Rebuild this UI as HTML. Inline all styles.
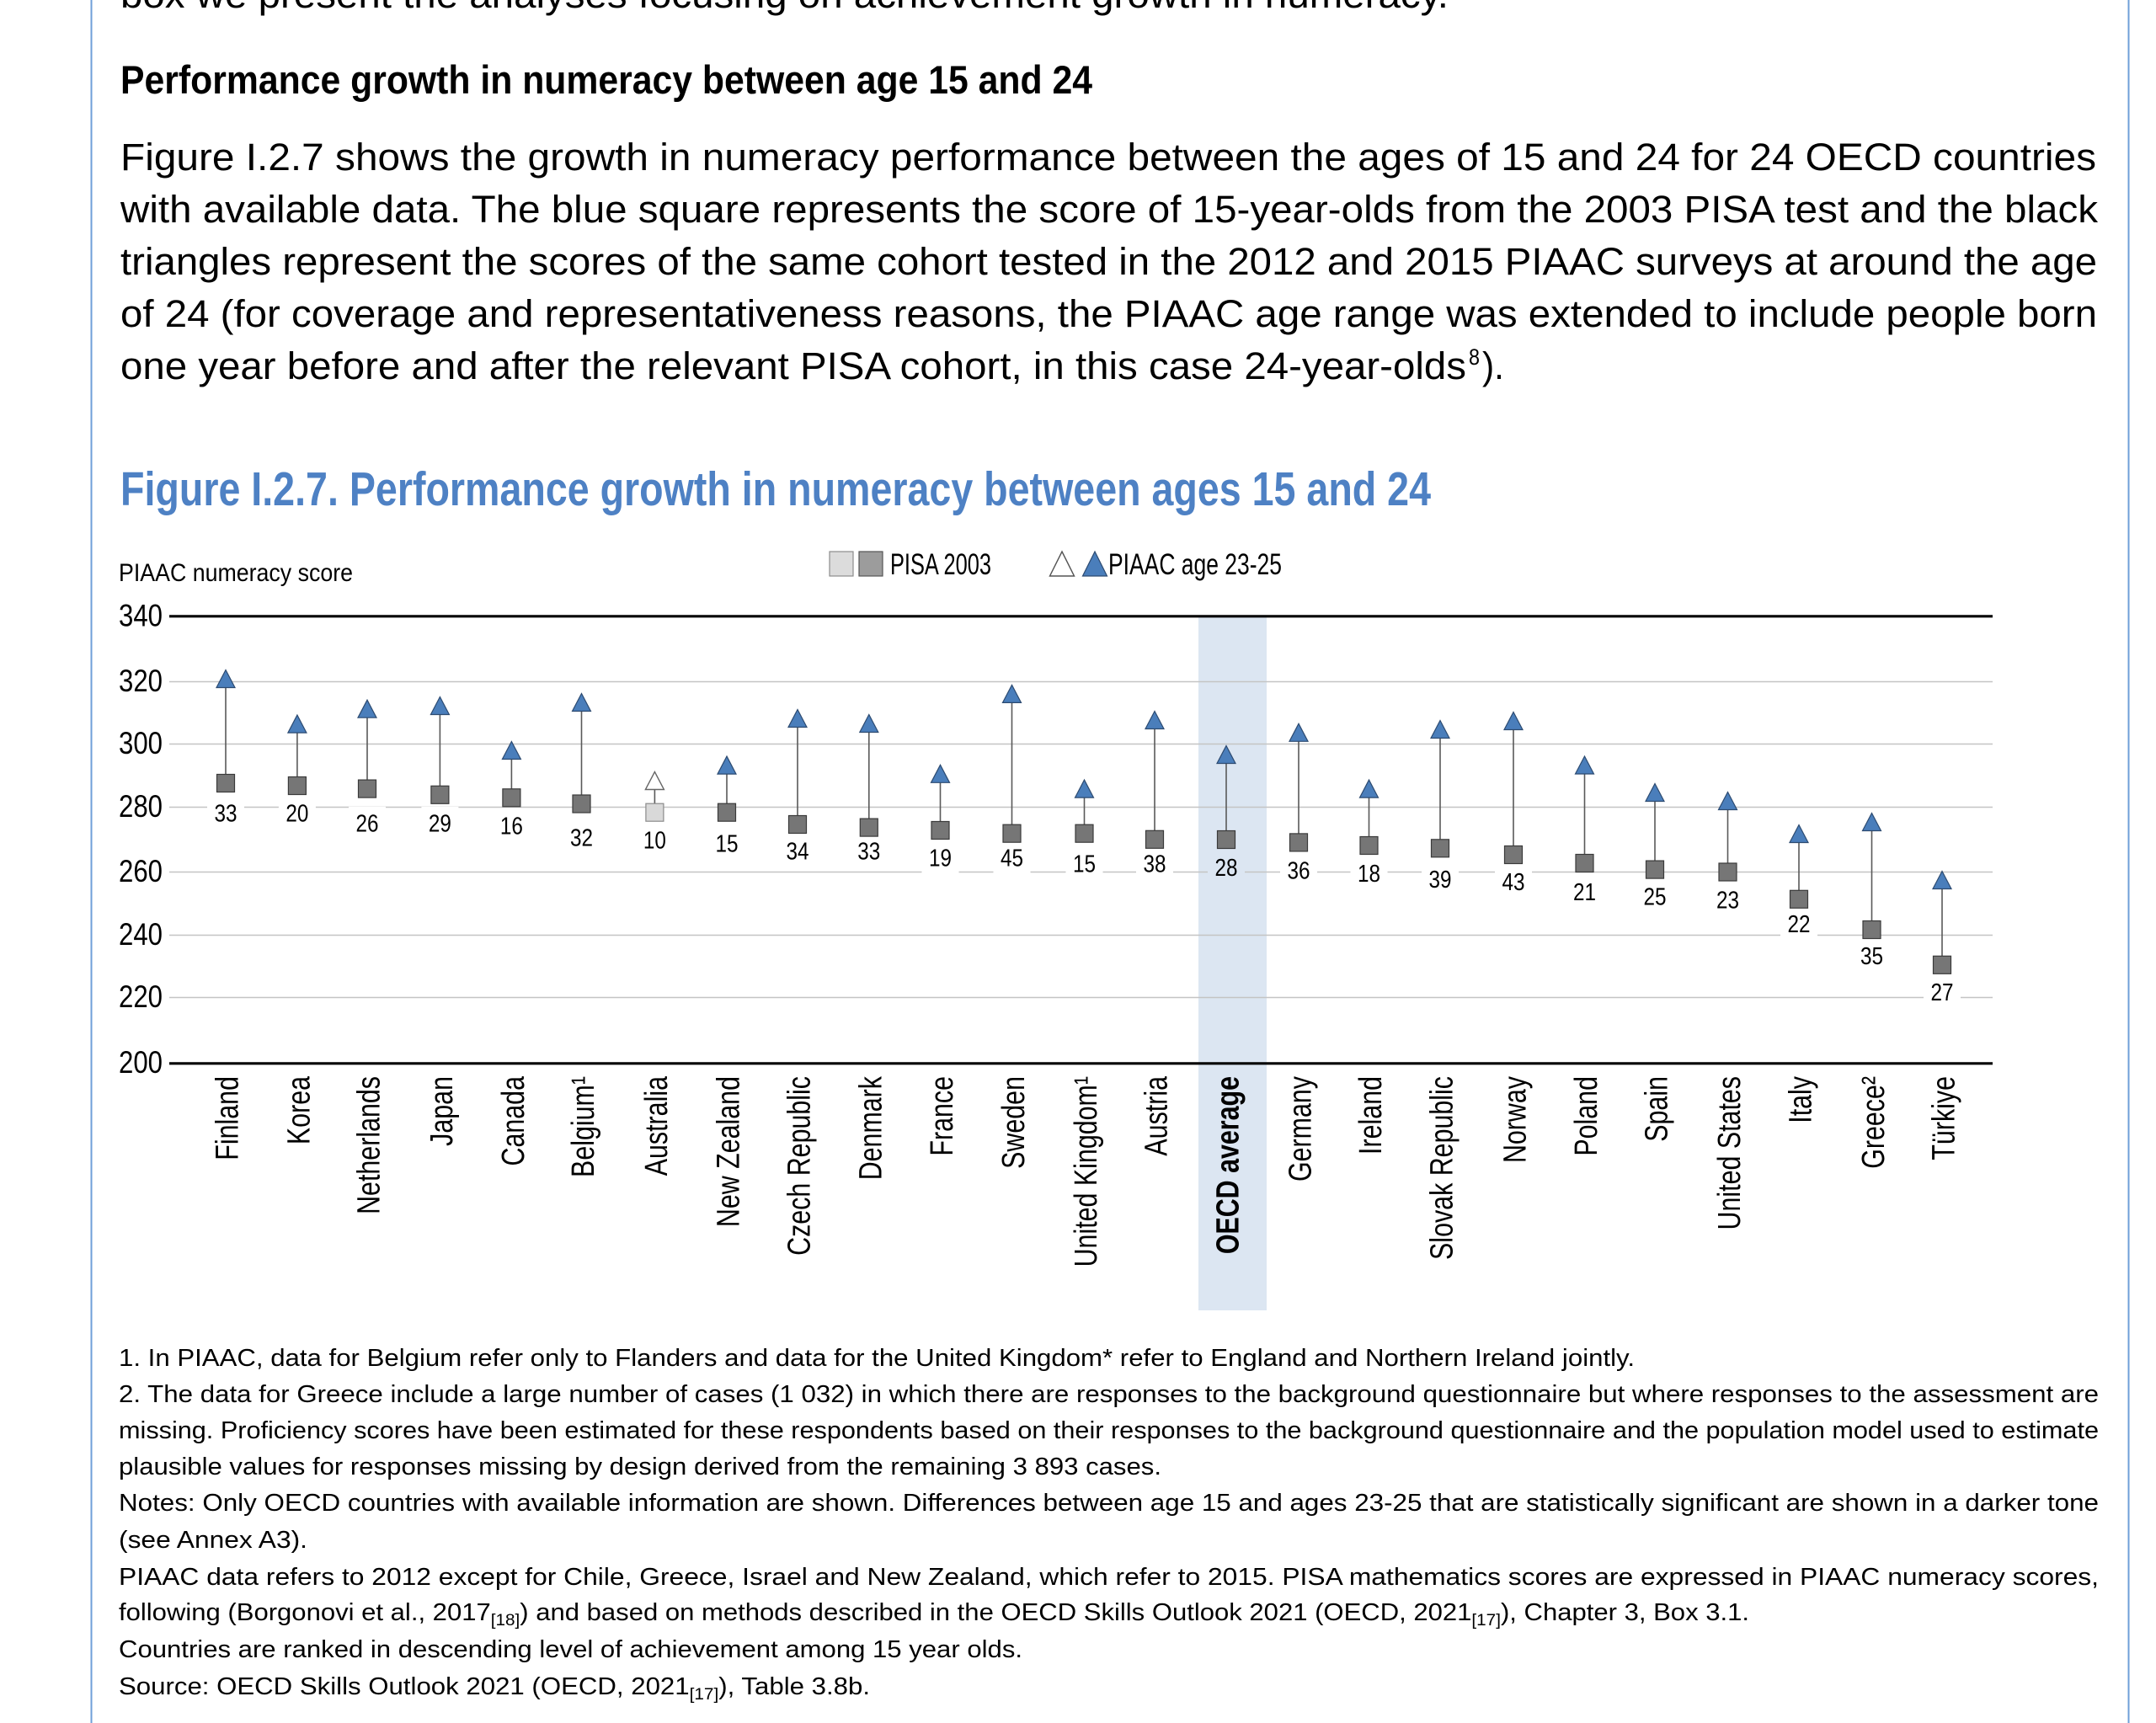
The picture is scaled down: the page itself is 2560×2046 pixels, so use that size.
<!DOCTYPE html>
<html>
<head>
<meta charset="utf-8">
<style>
html,body{margin:0;padding:0;background:#fff;}
svg{display:block;}
text{font-family:"Liberation Sans",Arial,sans-serif;fill:#000;}
.grid{stroke:#c4c4c4;stroke-width:1.5;}
.axis{stroke:#000;stroke-width:3.2;}
.st{stroke:#595959;stroke-width:1.6;}
.sq{fill:#767676;stroke:#3a3a3a;stroke-width:1.2;}
.sql{fill:#d9d9d9;stroke:#8a8a8a;stroke-width:1.2;}
.tr{fill:#4a7ebb;stroke:#2c4a70;stroke-width:1.2;}
.trl{fill:#fff;stroke:#666;stroke-width:1.4;}
.lb{fill:#fff;}
.dl{font-size:29px;}
.xl{font-size:38px;}
.tk{font-size:37px;}
.fn{font-size:28.5px;}
.pa{font-size:45px;}
</style>
</head>
<body>
<svg width="2560" height="2046" viewBox="0 0 2560 2046" xmlns="http://www.w3.org/2000/svg">
<rect x="0" y="0" width="2560" height="2046" fill="#fff"/>
<line x1="108.5" y1="0" x2="108.5" y2="2046" stroke="#6f9fd8" stroke-width="2"/>
<line x1="2527.5" y1="0" x2="2527.5" y2="2046" stroke="#6f9fd8" stroke-width="2"/>

<text class="pa" x="143" y="9" textLength="1577" lengthAdjust="spacingAndGlyphs">box we present the analyses focusing on achievement growth in numeracy.</text>
<text x="143" y="111" font-size="47" font-weight="bold" textLength="1154" lengthAdjust="spacingAndGlyphs">Performance growth in numeracy between age 15 and 24</text>
<text class="pa" x="143" y="202" textLength="2346" lengthAdjust="spacingAndGlyphs">Figure I.2.7 shows the growth in numeracy performance between the ages of 15 and 24 for 24 OECD countries</text>
<text class="pa" x="143" y="264" textLength="2348" lengthAdjust="spacingAndGlyphs">with available data. The blue square represents the score of 15-year-olds from the 2003 PISA test and the black</text>
<text class="pa" x="143" y="326" textLength="2347" lengthAdjust="spacingAndGlyphs">triangles represent the scores of the same cohort tested in the 2012 and 2015 PIAAC surveys at around the age</text>
<text class="pa" x="143" y="388" textLength="2347" lengthAdjust="spacingAndGlyphs">of 24 (for coverage and representativeness reasons, the PIAAC age range was extended to include people born</text>
<text class="pa" x="143" y="450" textLength="1598" lengthAdjust="spacingAndGlyphs">one year before and after the relevant PISA cohort, in this case 24-year-olds</text>
<text x="1744" y="433" font-size="27" textLength="13" lengthAdjust="spacingAndGlyphs">8</text>
<text class="pa" x="1760" y="450" textLength="26" lengthAdjust="spacingAndGlyphs">).</text>

<text x="143" y="600" font-size="57" font-weight="bold" style="fill:#4e81c4" textLength="1556" lengthAdjust="spacingAndGlyphs">Figure I.2.7. Performance growth in numeracy between ages 15 and 24</text>

<text x="141" y="690" font-size="30" textLength="278" lengthAdjust="spacingAndGlyphs">PIAAC numeracy score</text>

<rect x="985" y="655" width="28" height="29" fill="#dcdcdc" stroke="#8c8c8c" stroke-width="1.2"/>
<rect x="1020" y="655" width="28" height="29" fill="#9c9c9c" stroke="#555" stroke-width="1.2"/>
<text x="1057" y="682" font-size="35" textLength="120" lengthAdjust="spacingAndGlyphs">PISA 2003</text>
<polygon points="1246.5,684 1275.5,684 1261,655" fill="#fff" stroke="#555" stroke-width="1.4"/>
<polygon points="1285.5,684 1314.5,684 1300,655" fill="#4a7ebb" stroke="#2c4a70" stroke-width="1.2"/>
<text x="1316" y="682" font-size="35" textLength="206" lengthAdjust="spacingAndGlyphs">PIAAC age 23-25</text>

<rect x="1423" y="732" width="81" height="824" fill="#dce6f2"/>

<line class="grid" x1="201" y1="809.5" x2="2366" y2="809.5"/>
<line class="grid" x1="201" y1="883.5" x2="2366" y2="883.5"/>
<line class="grid" x1="201" y1="958.5" x2="2366" y2="958.5"/>
<line class="grid" x1="201" y1="1035.5" x2="2366" y2="1035.5"/>
<line class="grid" x1="201" y1="1110.5" x2="2366" y2="1110.5"/>
<line class="grid" x1="201" y1="1184.5" x2="2366" y2="1184.5"/>
<line class="axis" x1="201" y1="731.8" x2="2366" y2="731.8"/>
<line class="axis" x1="201" y1="1262.8" x2="2366" y2="1262.8"/>

<text class="tk" x="141" y="743.5" textLength="52" lengthAdjust="spacingAndGlyphs">340</text>
<text class="tk" x="141" y="821" textLength="52" lengthAdjust="spacingAndGlyphs">320</text>
<text class="tk" x="141" y="895" textLength="52" lengthAdjust="spacingAndGlyphs">300</text>
<text class="tk" x="141" y="970" textLength="52" lengthAdjust="spacingAndGlyphs">280</text>
<text class="tk" x="141" y="1047" textLength="52" lengthAdjust="spacingAndGlyphs">260</text>
<text class="tk" x="141" y="1122" textLength="52" lengthAdjust="spacingAndGlyphs">240</text>
<text class="tk" x="141" y="1196" textLength="52" lengthAdjust="spacingAndGlyphs">220</text>
<text class="tk" x="141" y="1274" textLength="52" lengthAdjust="spacingAndGlyphs">200</text>

<g transform="translate(268 0)">
<rect class="lb" x="-22" y="946" width="44" height="38"/>
<text class="dl" x="-13.5" y="975.5" textLength="27" lengthAdjust="spacingAndGlyphs">33</text>
<line class="st" x1="0" y1="930" x2="0" y2="806"/>
<rect class="sq" x="-10.5" y="919.5" width="21" height="21"/>
<polygon class="tr" transform="translate(0 806)" points="-11,10.5 11,10.5 0,-10.5"/>
<text class="xl" transform="translate(14.7 1278) rotate(-90) scale(0.8 1)" text-anchor="end">Finland</text>
</g>
<g transform="translate(352.9 0)">
<rect class="lb" x="-22" y="946" width="44" height="38"/>
<text class="dl" x="-13.5" y="975.5" textLength="27" lengthAdjust="spacingAndGlyphs">20</text>
<line class="st" x1="0" y1="933" x2="0" y2="859.6"/>
<rect class="sq" x="-10.5" y="922.5" width="21" height="21"/>
<polygon class="tr" transform="translate(0 859.6)" points="-11,10.5 11,10.5 0,-10.5"/>
<text class="xl" transform="translate(14.7 1278) rotate(-90) scale(0.8 1)" text-anchor="end">Korea</text>
</g>
<g transform="translate(436 0)">
<rect class="lb" x="-22" y="958" width="44" height="38"/>
<text class="dl" x="-13.5" y="987.5" textLength="27" lengthAdjust="spacingAndGlyphs">26</text>
<line class="st" x1="0" y1="936.6" x2="0" y2="841.7"/>
<rect class="sq" x="-10.5" y="926.1" width="21" height="21"/>
<polygon class="tr" transform="translate(0 841.7)" points="-11,10.5 11,10.5 0,-10.5"/>
<text class="xl" transform="translate(14.7 1278) rotate(-90) scale(0.8 1)" text-anchor="end">Netherlands</text>
</g>
<g transform="translate(522.4 0)">
<rect class="lb" x="-22" y="958" width="44" height="38"/>
<text class="dl" x="-13.5" y="987.5" textLength="27" lengthAdjust="spacingAndGlyphs">29</text>
<line class="st" x1="0" y1="943.8" x2="0" y2="838"/>
<rect class="sq" x="-10.5" y="933.3" width="21" height="21"/>
<polygon class="tr" transform="translate(0 838)" points="-11,10.5 11,10.5 0,-10.5"/>
<text class="xl" transform="translate(14.7 1278) rotate(-90) scale(0.8 1)" text-anchor="end">Japan</text>
</g>
<g transform="translate(607.4 0)">
<rect class="lb" x="-22" y="961" width="44" height="38"/>
<text class="dl" x="-13.5" y="990.5" textLength="27" lengthAdjust="spacingAndGlyphs">16</text>
<line class="st" x1="0" y1="947.3" x2="0" y2="891"/>
<rect class="sq" x="-10.5" y="936.8" width="21" height="21"/>
<polygon class="tr" transform="translate(0 891)" points="-11,10.5 11,10.5 0,-10.5"/>
<text class="xl" transform="translate(14.7 1278) rotate(-90) scale(0.8 1)" text-anchor="end">Canada</text>
</g>
<g transform="translate(690.5 0)">
<rect class="lb" x="-22" y="975" width="44" height="38"/>
<text class="dl" x="-13.5" y="1004.5" textLength="27" lengthAdjust="spacingAndGlyphs">32</text>
<line class="st" x1="0" y1="954.5" x2="0" y2="834"/>
<rect class="sq" x="-10.5" y="944" width="21" height="21"/>
<polygon class="tr" transform="translate(0 834)" points="-11,10.5 11,10.5 0,-10.5"/>
<text class="xl" transform="translate(14.7 1278) rotate(-90) scale(0.8 1)" text-anchor="end">Belgium¹</text>
</g>
<g transform="translate(777.4 0)">
<rect class="lb" x="-22" y="978" width="44" height="38"/>
<text class="dl" x="-13.5" y="1007.5" textLength="27" lengthAdjust="spacingAndGlyphs">10</text>
<line class="st" x1="0" y1="964.7" x2="0" y2="927"/>
<rect class="sql" x="-10.5" y="954.2" width="21" height="21"/>
<polygon class="trl" transform="translate(0 927)" points="-11,10.5 11,10.5 0,-10.5"/>
<text class="xl" transform="translate(14.7 1278) rotate(-90) scale(0.8 1)" text-anchor="end">Australia</text>
</g>
<g transform="translate(863 0)">
<rect class="lb" x="-22" y="982" width="44" height="38"/>
<text class="dl" x="-13.5" y="1011.5" textLength="27" lengthAdjust="spacingAndGlyphs">15</text>
<line class="st" x1="0" y1="964.7" x2="0" y2="908.6"/>
<rect class="sq" x="-10.5" y="954.2" width="21" height="21"/>
<polygon class="tr" transform="translate(0 908.6)" points="-11,10.5 11,10.5 0,-10.5"/>
<text class="xl" transform="translate(14.7 1278) rotate(-90) scale(0.8 1)" text-anchor="end">New Zealand</text>
</g>
<g transform="translate(947 0)">
<rect class="lb" x="-22" y="991" width="44" height="38"/>
<text class="dl" x="-13.5" y="1020.5" textLength="27" lengthAdjust="spacingAndGlyphs">34</text>
<line class="st" x1="0" y1="979" x2="0" y2="853"/>
<rect class="sq" x="-10.5" y="968.5" width="21" height="21"/>
<polygon class="tr" transform="translate(0 853)" points="-11,10.5 11,10.5 0,-10.5"/>
<text class="xl" transform="translate(14.7 1278) rotate(-90) scale(0.8 1)" text-anchor="end">Czech Republic</text>
</g>
<g transform="translate(1031.8 0)">
<rect class="lb" x="-22" y="991" width="44" height="38"/>
<text class="dl" x="-13.5" y="1020.5" textLength="27" lengthAdjust="spacingAndGlyphs">33</text>
<line class="st" x1="0" y1="982.6" x2="0" y2="859"/>
<rect class="sq" x="-10.5" y="972.1" width="21" height="21"/>
<polygon class="tr" transform="translate(0 859)" points="-11,10.5 11,10.5 0,-10.5"/>
<text class="xl" transform="translate(14.7 1278) rotate(-90) scale(0.8 1)" text-anchor="end">Denmark</text>
</g>
<g transform="translate(1116.5 0)">
<rect class="lb" x="-22" y="999" width="44" height="38"/>
<text class="dl" x="-13.5" y="1028.5" textLength="27" lengthAdjust="spacingAndGlyphs">19</text>
<line class="st" x1="0" y1="986" x2="0" y2="918.8"/>
<rect class="sq" x="-10.5" y="975.5" width="21" height="21"/>
<polygon class="tr" transform="translate(0 918.8)" points="-11,10.5 11,10.5 0,-10.5"/>
<text class="xl" transform="translate(14.7 1278) rotate(-90) scale(0.8 1)" text-anchor="end">France</text>
</g>
<g transform="translate(1201.5 0)">
<rect class="lb" x="-22" y="999" width="44" height="38"/>
<text class="dl" x="-13.5" y="1028.5" textLength="27" lengthAdjust="spacingAndGlyphs">45</text>
<line class="st" x1="0" y1="989.7" x2="0" y2="823.9"/>
<rect class="sq" x="-10.5" y="979.2" width="21" height="21"/>
<polygon class="tr" transform="translate(0 823.9)" points="-11,10.5 11,10.5 0,-10.5"/>
<text class="xl" transform="translate(14.7 1278) rotate(-90) scale(0.8 1)" text-anchor="end">Sweden</text>
</g>
<g transform="translate(1287.5 0)">
<rect class="lb" x="-22" y="1006" width="44" height="38"/>
<text class="dl" x="-13.5" y="1035.5" textLength="27" lengthAdjust="spacingAndGlyphs">15</text>
<line class="st" x1="0" y1="989.7" x2="0" y2="936.6"/>
<rect class="sq" x="-10.5" y="979.2" width="21" height="21"/>
<polygon class="tr" transform="translate(0 936.6)" points="-11,10.5 11,10.5 0,-10.5"/>
<text class="xl" transform="translate(14.7 1278) rotate(-90) scale(0.8 1)" text-anchor="end">United Kingdom¹</text>
</g>
<g transform="translate(1371 0)">
<rect class="lb" x="-22" y="1006" width="44" height="38"/>
<text class="dl" x="-13.5" y="1035.5" textLength="27" lengthAdjust="spacingAndGlyphs">38</text>
<line class="st" x1="0" y1="996.8" x2="0" y2="855"/>
<rect class="sq" x="-10.5" y="986.3" width="21" height="21"/>
<polygon class="tr" transform="translate(0 855)" points="-11,10.5 11,10.5 0,-10.5"/>
<text class="xl" transform="translate(14.7 1278) rotate(-90) scale(0.8 1)" text-anchor="end">Austria</text>
</g>
<g transform="translate(1456 0)">
<rect x="-22" y="1010.5" width="44" height="38" fill="#dce6f2"/>
<text class="dl" x="-13.5" y="1040" textLength="27" lengthAdjust="spacingAndGlyphs">28</text>
<line class="st" x1="0" y1="997" x2="0" y2="896"/>
<rect class="sq" x="-10.5" y="986.5" width="21" height="21"/>
<polygon class="tr" transform="translate(0 896)" points="-11,10.5 11,10.5 0,-10.5"/>
<text class="xl" font-weight="bold" transform="translate(14.7 1278) rotate(-90) scale(0.8 1)" text-anchor="end">OECD average</text>
</g>
<g transform="translate(1542 0)">
<rect class="lb" x="-22" y="1014" width="44" height="38"/>
<text class="dl" x="-13.5" y="1043.5" textLength="27" lengthAdjust="spacingAndGlyphs">36</text>
<line class="st" x1="0" y1="1000.4" x2="0" y2="869.8"/>
<rect class="sq" x="-10.5" y="989.9" width="21" height="21"/>
<polygon class="tr" transform="translate(0 869.8)" points="-11,10.5 11,10.5 0,-10.5"/>
<text class="xl" transform="translate(14.7 1278) rotate(-90) scale(0.8 1)" text-anchor="end">Germany</text>
</g>
<g transform="translate(1625.5 0)">
<rect class="lb" x="-22" y="1017.6" width="44" height="38"/>
<text class="dl" x="-13.5" y="1047" textLength="27" lengthAdjust="spacingAndGlyphs">18</text>
<line class="st" x1="0" y1="1004" x2="0" y2="936.6"/>
<rect class="sq" x="-10.5" y="993.5" width="21" height="21"/>
<polygon class="tr" transform="translate(0 936.6)" points="-11,10.5 11,10.5 0,-10.5"/>
<text class="xl" transform="translate(14.7 1278) rotate(-90) scale(0.8 1)" text-anchor="end">Ireland</text>
</g>
<g transform="translate(1710 0)">
<rect class="lb" x="-22" y="1024.7" width="44" height="38"/>
<text class="dl" x="-13.5" y="1054.2" textLength="27" lengthAdjust="spacingAndGlyphs">39</text>
<line class="st" x1="0" y1="1007.3" x2="0" y2="866"/>
<rect class="sq" x="-10.5" y="996.8" width="21" height="21"/>
<polygon class="tr" transform="translate(0 866)" points="-11,10.5 11,10.5 0,-10.5"/>
<text class="xl" transform="translate(14.7 1278) rotate(-90) scale(0.8 1)" text-anchor="end">Slovak Republic</text>
</g>
<g transform="translate(1797 0)">
<rect class="lb" x="-22" y="1027.7" width="44" height="38"/>
<text class="dl" x="-13.5" y="1057.2" textLength="27" lengthAdjust="spacingAndGlyphs">43</text>
<line class="st" x1="0" y1="1015" x2="0" y2="856"/>
<rect class="sq" x="-10.5" y="1004.5" width="21" height="21"/>
<polygon class="tr" transform="translate(0 856)" points="-11,10.5 11,10.5 0,-10.5"/>
<text class="xl" transform="translate(14.7 1278) rotate(-90) scale(0.8 1)" text-anchor="end">Norway</text>
</g>
<g transform="translate(1881.5 0)">
<rect class="lb" x="-22" y="1039.4" width="44" height="38"/>
<text class="dl" x="-13.5" y="1068.9" textLength="27" lengthAdjust="spacingAndGlyphs">21</text>
<line class="st" x1="0" y1="1025" x2="0" y2="908.5"/>
<rect class="sq" x="-10.5" y="1014.5" width="21" height="21"/>
<polygon class="tr" transform="translate(0 908.5)" points="-11,10.5 11,10.5 0,-10.5"/>
<text class="xl" transform="translate(14.7 1278) rotate(-90) scale(0.8 1)" text-anchor="end">Poland</text>
</g>
<g transform="translate(1965 0)">
<rect class="lb" x="-22" y="1045" width="44" height="38"/>
<text class="dl" x="-13.5" y="1074.5" textLength="27" lengthAdjust="spacingAndGlyphs">25</text>
<line class="st" x1="0" y1="1032.6" x2="0" y2="941"/>
<rect class="sq" x="-10.5" y="1022.1" width="21" height="21"/>
<polygon class="tr" transform="translate(0 941)" points="-11,10.5 11,10.5 0,-10.5"/>
<text class="xl" transform="translate(14.7 1278) rotate(-90) scale(0.8 1)" text-anchor="end">Spain</text>
</g>
<g transform="translate(2051.5 0)">
<rect class="lb" x="-22" y="1048.8" width="44" height="38"/>
<text class="dl" x="-13.5" y="1078.3" textLength="27" lengthAdjust="spacingAndGlyphs">23</text>
<line class="st" x1="0" y1="1035.5" x2="0" y2="951"/>
<rect class="sq" x="-10.5" y="1025" width="21" height="21"/>
<polygon class="tr" transform="translate(0 951)" points="-11,10.5 11,10.5 0,-10.5"/>
<text class="xl" transform="translate(14.7 1278) rotate(-90) scale(0.8 1)" text-anchor="end">United States</text>
</g>
<g transform="translate(2136 0)">
<rect class="lb" x="-22" y="1077.5" width="44" height="38"/>
<text class="dl" x="-13.5" y="1107" textLength="27" lengthAdjust="spacingAndGlyphs">22</text>
<line class="st" x1="0" y1="1067.8" x2="0" y2="990"/>
<rect class="sq" x="-10.5" y="1057.3" width="21" height="21"/>
<polygon class="tr" transform="translate(0 990)" points="-11,10.5 11,10.5 0,-10.5"/>
<text class="xl" transform="translate(14.7 1278) rotate(-90) scale(0.8 1)" text-anchor="end">Italy</text>
</g>
<g transform="translate(2222.5 0)">
<rect class="lb" x="-22" y="1115.7" width="44" height="38"/>
<text class="dl" x="-13.5" y="1145.2" textLength="27" lengthAdjust="spacingAndGlyphs">35</text>
<line class="st" x1="0" y1="1104" x2="0" y2="976"/>
<rect class="sq" x="-10.5" y="1093.5" width="21" height="21"/>
<polygon class="tr" transform="translate(0 976)" points="-11,10.5 11,10.5 0,-10.5"/>
<text class="xl" transform="translate(14.7 1278) rotate(-90) scale(0.8 1)" text-anchor="end">Greece²</text>
</g>
<g transform="translate(2306 0)">
<rect class="lb" x="-22" y="1158.5" width="44" height="38"/>
<text class="dl" x="-13.5" y="1188" textLength="27" lengthAdjust="spacingAndGlyphs">27</text>
<line class="st" x1="0" y1="1145.8" x2="0" y2="1045"/>
<rect class="sq" x="-10.5" y="1135.3" width="21" height="21"/>
<polygon class="tr" transform="translate(0 1045)" points="-11,10.5 11,10.5 0,-10.5"/>
<text class="xl" transform="translate(14.7 1278) rotate(-90) scale(0.8 1)" text-anchor="end">Türkiye</text>
</g>

<text class="fn" x="141" y="1622" textLength="1800" lengthAdjust="spacingAndGlyphs">1. In PIAAC, data for Belgium refer only to Flanders and data for the United Kingdom* refer to England and Northern Ireland jointly.</text>
<text class="fn" x="141" y="1665" textLength="2351" lengthAdjust="spacingAndGlyphs">2. The data for Greece include a large number of cases (1 032) in which there are responses to the background questionnaire but where responses to the assessment are</text>
<text class="fn" x="141" y="1708" textLength="2351" lengthAdjust="spacingAndGlyphs">missing. Proficiency scores have been estimated for these respondents based on their responses to the background questionnaire and the population model used to estimate</text>
<text class="fn" x="141" y="1751" textLength="1238" lengthAdjust="spacingAndGlyphs">plausible values for responses missing by design derived from the remaining 3 893 cases.</text>
<text class="fn" x="141" y="1794" textLength="2351" lengthAdjust="spacingAndGlyphs">Notes: Only OECD countries with available information are shown. Differences between age 15 and ages 23-25 that are statistically significant are shown in a darker tone</text>
<text class="fn" x="141" y="1838" textLength="224" lengthAdjust="spacingAndGlyphs">(see Annex A3).</text>
<text class="fn" x="141" y="1882" textLength="2351" lengthAdjust="spacingAndGlyphs">PIAAC data refers to 2012 except for Chile, Greece, Israel and New Zealand, which refer to 2015. PISA mathematics scores are expressed in PIAAC numeracy scores,</text>
<text class="fn" x="141" y="1924" textLength="1936" lengthAdjust="spacingAndGlyphs">following (Borgonovi et al., 2017<tspan font-size="19" dy="6">[18]</tspan><tspan dy="-6">) and based on methods described in the OECD Skills Outlook 2021 (OECD, 2021</tspan><tspan font-size="19" dy="6">[17]</tspan><tspan dy="-6">), Chapter 3, Box 3.1.</tspan></text>
<text class="fn" x="141" y="1968" textLength="1073" lengthAdjust="spacingAndGlyphs">Countries are ranked in descending level of achievement among 15 year olds.</text>
<text class="fn" x="141" y="2012" textLength="892" lengthAdjust="spacingAndGlyphs">Source: OECD Skills Outlook 2021 (OECD, 2021<tspan font-size="19" dy="6">[17]</tspan><tspan dy="-6">), Table 3.8b.</tspan></text>
</svg>
</body>
</html>
